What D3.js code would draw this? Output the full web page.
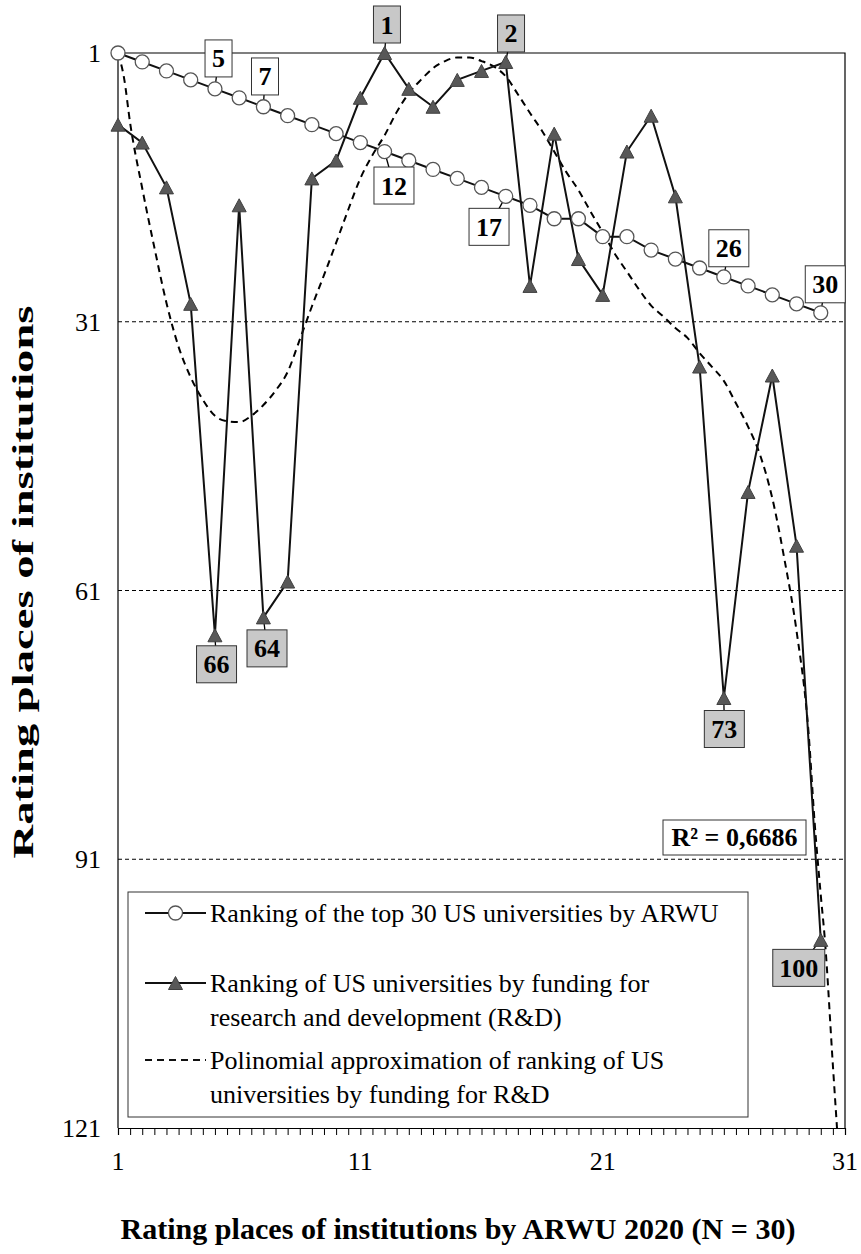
<!DOCTYPE html>
<html><head><meta charset="utf-8">
<script src="https://cdn.jsdelivr.net/npm/d3@7"></script>
<style>
html,body{margin:0;padding:0;background:#fff;}
svg{display:block;font-family:"Liberation Serif","Times New Roman",serif;}
</style></head>
<body>
<svg id="chart" width="861" height="1254"></svg>
<script>
// ---------- DATA ----------
const positions = d3.range(1, 31);            // ARWU 2020 places (x)
const arwuRank = [1,2,3,4,5,6,7,8,9,10,11,12,13,14,15,16,17,18,19.5,19.5,21.5,21.5,23,24,25,26,27,28,29,30];
const rdRank = [9,11,16,29,66,18,64,60,15,13,6,1,5,7,4,3,2,27,10,24,28,12,8,17,36,73,50,37,56,100];
// polynomial trendline
const trendX = [1,1.25,1.5,2,2.5,3,3.5,4,4.5,5,5.5,6,6.5,7,7.5,8,8.5,9,9.5,10,10.5,11,11.5,12,12.5,13,13.5,14,14.5,15,15.5,16,16.5,17,17.5,18,18.5,19,19.5,20,20.5,21,21.5,22,22.5,23,23.5,24,24.5,25,25.5,26,26.5,27,27.5,28,28.5,29,29.5,29.75,30,30.17,30.5,30.67];
const trendY = [1,3.8,8.8,16.1,22.7,28.9,33.8,37.2,39.7,41.5,42.1,42.2,41.5,40.3,38.7,36.6,33.0,29.3,25.8,22.2,18.5,15.0,12.4,10.2,7.6,5.5,4.0,2.7,1.9,1.5,1.5,1.9,2.5,3.6,5.6,7.7,9.7,12.0,14.3,16.3,18.7,21.0,23.4,25.4,27.4,29.2,30.4,31.7,32.8,34.5,36.0,37.6,40.1,42.7,45.9,50.7,57.5,65.5,77,87,95,100,114,121];
const yTicks = [1,31,61,91,121];
const xTicks = [1,11,21,31];
const gridValues = [31,61,91];
const arwuLabelIdx = [4,6,11,16,25,29];      // points labelled on ARWU series
const rdLabelIdx = [11,16,4,6,25,29];         // points labelled on R&D series
const r2Text = "R² = 0,6686";
const legendTexts = [
  ["Ranking of the top 30 US universities by ARWU"],
  ["Ranking of US universities by funding for","research and development (R&D)"],
  ["Polinomial approximation of ranking of US","universities by funding for R&D"]
];
const xTitle = "Rating places of institutions by ARWU 2020 (N = 30)";
const yTitle = "Rating places of institutions";

// ---------- LAYOUT ----------
const svg = d3.select("#chart");
const x = d3.scaleLinear().domain([1,31]).range([118,845]);
const y = d3.scaleLinear().domain([1,121]).range([53,1128]);
const arwuLabelOff = {4:[3.6,-30.4],6:[1.6,-30.3],11:[9.4,34],16:[-16.7,30.5],25:[5,-28.7],29:[4.5,-28.5]};
const rdLabelOff = {11:[2.4,-28.5],16:[5.3,-28.5],4:[1.6,29],6:[3.6,31],25:[0.5,31],29:[-22,28]};

// clip for plot
svg.append("defs").append("clipPath").attr("id","plotclip")
  .append("rect").attr("x",118).attr("y",53).attr("width",727).attr("height",1075);

// gridlines
svg.append("g").selectAll("line").data(gridValues).join("line")
  .attr("x1",x(1)).attr("x2",x(31)).attr("y1",d=>y(d)).attr("y2",d=>y(d))
  .attr("stroke","#000").attr("stroke-width",1).attr("stroke-dasharray","4,3");

// frame (top, right, left)
svg.append("path").attr("d",`M${x(1)},${y(121)}V${y(1)}H${x(31)}V${y(121)}`)
  .attr("fill","none").attr("stroke","#000").attr("stroke-width",1.2);

// x axis
const xAxis = d3.axisBottom(x).tickValues(d3.range(1,31.01,0.5)).tickSize(7).tickFormat("");
const gx = svg.append("g").attr("transform",`translate(0,${y(121)})`).call(xAxis);
gx.select(".domain").attr("stroke","#000").attr("stroke-width",1.2);
gx.selectAll(".tick line").attr("stroke","#000").attr("stroke-width",1);
svg.append("g").selectAll("text").data(xTicks).join("text")
  .attr("x",d=>x(d)).attr("y",1170).attr("text-anchor","middle")
  .attr("font-size",26).text(d=>d);

// y tick labels
svg.append("g").selectAll("text").data(yTicks).join("text")
  .attr("x",101).attr("y",d=>y(d)+9).attr("text-anchor","end")
  .attr("font-size",26).text(d=>d);

// titles
svg.append("text").attr("x",458).attr("y",1239).attr("text-anchor","middle")
  .attr("font-size",29).attr("font-weight","bold")
  .attr("textLength",675).attr("lengthAdjust","spacingAndGlyphs").text(xTitle);
svg.append("text").attr("transform","translate(33,582) rotate(-90)").attr("text-anchor","middle")
  .attr("font-size",30).attr("font-weight","bold")
  .attr("textLength",553).attr("lengthAdjust","spacingAndGlyphs").text(yTitle);

// trendline
const trend = trendX.map((v,i)=>[v,trendY[i]]);
svg.append("path").datum(trend).attr("clip-path","url(#plotclip)")
  .attr("d",d3.line().x(d=>x(d[0])).y(d=>y(d[1])).curve(d3.curveMonotoneX))
  .attr("fill","none").attr("stroke","#000").attr("stroke-width",2).attr("stroke-dasharray","7,5");

// series lines
const arwuPts = positions.map((p,i)=>[p,arwuRank[i]]);
const rdPts = positions.map((p,i)=>[p,rdRank[i]]);
const line = d3.line().x(d=>x(d[0])).y(d=>y(d[1]));
svg.append("path").datum(rdPts).attr("d",line).attr("fill","none").attr("stroke","#111").attr("stroke-width",2);
svg.append("path").datum(arwuPts).attr("d",line).attr("fill","none").attr("stroke","#111").attr("stroke-width",2);

// label leaders
function boxW(t){return t.length===1?27:(t.length===2?40:52);}
const labels = [];
arwuLabelIdx.forEach(i=>labels.push({px:x(positions[i]),py:y(arwuRank[i]),t:String(arwuRank[i]),off:arwuLabelOff[i],fill:"#fff"}));
rdLabelIdx.forEach(i=>labels.push({px:x(positions[i]),py:y(rdRank[i]),t:String(rdRank[i]),off:rdLabelOff[i],fill:"#c8c8c8"}));
svg.append("g").selectAll("line").data(labels).join("line")
  .attr("x1",d=>d.px).attr("y1",d=>d.py)
  .attr("x2",d=>d.px+d.off[0]).attr("y2",d=>d.py+d.off[1])
  .attr("stroke","#000").attr("stroke-width",1.3);

// triangle markers
const tri = "M0,-6.5L7,6.5L-7,6.5Z";
svg.append("g").selectAll("path").data(rdPts).join("path")
  .attr("transform",d=>`translate(${x(d[0])},${y(d[1])})`).attr("d",tri)
  .attr("fill","#585858").attr("stroke","#404040").attr("stroke-width",1);
// circle markers
svg.append("g").selectAll("circle").data(arwuPts).join("circle")
  .attr("cx",d=>x(d[0])).attr("cy",d=>y(d[1])).attr("r",7)
  .attr("fill","#fff").attr("stroke","#555").attr("stroke-width",1.3);

// label boxes
const lg = svg.append("g").selectAll("g").data(labels).join("g")
  .attr("transform",d=>`translate(${d.px+d.off[0]},${d.py+d.off[1]})`);
lg.append("rect").attr("x",d=>-boxW(d.t)/2).attr("y",-18.5).attr("width",d=>boxW(d.t)).attr("height",37)
  .attr("fill",d=>d.fill).attr("stroke","#333").attr("stroke-width",1);
lg.append("text").attr("text-anchor","middle").attr("y",9).attr("font-size",26).attr("font-weight","bold").text(d=>d.t);

// R² box
svg.append("rect").attr("x",663).attr("y",820).attr("width",143).attr("height",35)
  .attr("fill","#fff").attr("stroke","#333").attr("stroke-width",1);
svg.append("text").attr("x",734.5).attr("y",846).attr("text-anchor","middle")
  .attr("font-size",26).attr("font-weight","bold").text(r2Text);

// legend
const leg = svg.append("g");
leg.append("rect").attr("x",128).attr("y",892).attr("width",620).attr("height",225)
  .attr("fill","#fff").attr("stroke","#333").attr("stroke-width",1);
const legRows = [913, 983, 1060];
const lineGap = 34;
// samples
leg.append("line").attr("x1",145).attr("x2",206).attr("y1",legRows[0]).attr("y2",legRows[0]).attr("stroke","#111").attr("stroke-width",2);
leg.append("circle").attr("cx",175.5).attr("cy",legRows[0]).attr("r",7).attr("fill","#fff").attr("stroke","#555").attr("stroke-width",1.3);
leg.append("line").attr("x1",145).attr("x2",206).attr("y1",legRows[1]).attr("y2",legRows[1]).attr("stroke","#111").attr("stroke-width",2);
leg.append("path").attr("transform",`translate(175.5,${legRows[1]})`).attr("d",tri).attr("fill","#585858").attr("stroke","#404040");
leg.append("line").attr("x1",145).attr("x2",206).attr("y1",legRows[2]).attr("y2",legRows[2]).attr("stroke","#111").attr("stroke-width",2).attr("stroke-dasharray","7,5");
legendTexts.forEach((lines,k)=>{
  lines.forEach((t,j)=>{
    leg.append("text").attr("x",210).attr("y",legRows[k]+9+j*lineGap).attr("font-size",26).text(t);
  });
});
</script>
</body></html>
